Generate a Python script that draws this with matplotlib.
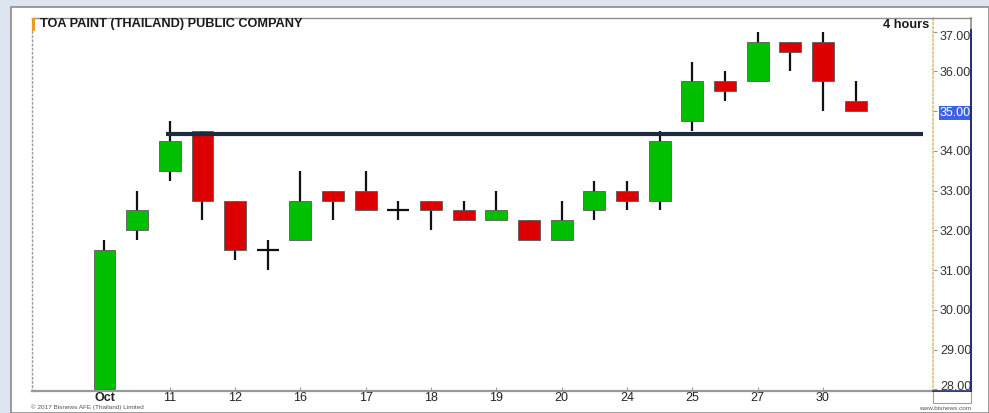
import matplotlib
matplotlib.use("Agg")
import matplotlib.pyplot as plt
import matplotlib.transforms as mtransforms
from matplotlib.lines import Line2D
from matplotlib.patches import Rectangle

# ---------------- data ----------------
opens  = [28.0, 32.0, 33.5, 34.5, 32.75, 31.5, 31.75, 33.0, 33.0, 32.5, 32.75, 32.5,
          32.25, 32.25, 31.75, 32.5, 33.0, 32.75, 34.75, 35.75, 35.75, 36.75, 36.75, 35.25]
highs  = [31.75, 33.0, 34.75, 34.5, 32.75, 31.75, 33.5, 33.0, 33.5, 32.75, 32.75, 32.75,
          33.0, 32.25, 32.75, 33.25, 33.25, 34.5, 36.25, 36.0, 37.0, 36.75, 37.0, 35.75]
lows   = [28.0, 31.75, 33.25, 32.25, 31.25, 31.0, 31.75, 32.25, 32.5, 32.25, 32.0, 32.25,
          32.25, 31.75, 31.75, 32.25, 32.5, 32.5, 34.5, 35.25, 35.75, 36.0, 35.0, 35.0]
closes = [31.5, 32.5, 34.25, 32.75, 31.5, 31.5, 32.75, 32.75, 32.5, 32.5, 32.5, 32.25,
          32.5, 31.75, 32.25, 33.0, 32.75, 34.25, 35.75, 35.5, 36.75, 36.5, 35.75, 35.0]
x_tick_idx = [0, 2, 4, 6, 8, 10, 12, 14, 16, 18, 20, 22]
x_tick_labels = ["Oct", "11", "12", "16", "17", "18", "19", "20", "24", "25", "27", "30"]
y_ticks = [28, 29, 30, 31, 32, 33, 34, 35, 36, 37]
resistance_level = 34.42
resistance_start = 1.88
resistance_end = 25.06
title = "TOA PAINT (THAILAND) PUBLIC COMPANY"
interval = "4 hours"
last_price_label = 35.0

# ---------------- figure ----------------
W, H = 989, 413
fig = plt.figure(figsize=(W / 100, H / 100), dpi=100)
fig.patch.set_facecolor("#dde5ef")

def P(x, y):
    return (x / W, 1 - y / H)

# white panel
fig.add_artist(Rectangle(P(11, H), (W - 11) / W, (H - 7) / H, transform=fig.transFigure,
                         facecolor="white", edgecolor="#8c8c8c", lw=1.2, zorder=0))

L, R, T, B = 32, 933, 18, 391
ax = fig.add_axes([L / W, 1 - B / H, (R - L) / W, (B - T) / H])
ax.set_facecolor("white")

GREEN = "#00bf00"
RED = "#dd0000"
bw = 0.67

idx = list(range(len(opens)))
for i in idx:
    o, h, l, c = opens[i], highs[i], lows[i], closes[i]
    ax.vlines(i, l, h, color="#111111", lw=1.6, zorder=2)
    if o == c:
        ax.hlines(o, i - bw / 2, i + bw / 2, color="#111111", lw=1.6, zorder=3)
    else:
        col = GREEN if c > o else RED
        ax.bar(i, abs(c - o), bottom=min(o, c), width=bw, color=col,
               edgecolor="#5a5a5a", linewidth=0.6, zorder=3)

ax.hlines(resistance_level, resistance_start, resistance_end, color="#1c2b40", lw=3.0, zorder=4)

ax.set_xlim(-2.22, 25.37)
ax.set_ylim(27.957, 37.345)

# y axis on right
ax.yaxis.tick_right()
ax.set_yticks(y_ticks)
ax.set_yticklabels([f"{v:.2f}" for v in y_ticks])
ax.tick_params(axis="y", which="both", right=True, left=False, length=3, width=0.8,
               color="#999999", labelsize=9, labelcolor="#333333", pad=2)
for lab in ax.get_yticklabels():
    lab.set_fontfamily("Liberation Sans")
ytl = ax.get_yticklabels()
off_down = mtransforms.ScaledTranslation(0, -4 / 100, fig.dpi_scale_trans)
off_up = mtransforms.ScaledTranslation(0, 4 / 100, fig.dpi_scale_trans)
for v, lab in zip(y_ticks, ytl):
    if v == y_ticks[-1]:
        lab.set_transform(lab.get_transform() + off_down)
    if v == y_ticks[0]:
        lab.set_transform(lab.get_transform() + off_up)
    if v == last_price_label:
        lab.set_color("white")
        lab.set_bbox(dict(facecolor="#3d62e3", edgecolor="none", pad=0.6))

# x axis
ax.set_xticks(x_tick_idx)
ax.set_xticklabels(x_tick_labels)
ax.tick_params(axis="x", length=3, width=0.8, color="#999999", direction="in",
               labelsize=9, labelcolor="#222222", pad=1)
for lab in ax.get_xticklabels():
    lab.set_fontfamily("Liberation Sans")
ax.get_xticklabels()[0].set_fontweight("bold")

# spines
ax.spines["top"].set_color("#8c8c8c")
ax.spines["top"].set_linewidth(1.0)
ax.spines["left"].set_color("#9a9a9a")
ax.spines["left"].set_linestyle((0, (1, 2)))
ax.spines["left"].set_linewidth(1.0)
ax.spines["right"].set_color("#dcc47a")
ax.spines["right"].set_linestyle((0, (1, 1.5)))
ax.spines["right"].set_linewidth(1.2)
ax.spines["bottom"].set_color("#9a9a9a")
ax.spines["bottom"].set_linewidth(1.6)

# outer frame pieces
fig.add_artist(Line2D([P(R, T)[0], P(971, T)[0]], [P(R, T)[1]] * 2, transform=fig.transFigure,
                      color="#8c8c8c", lw=1.0))
fig.add_artist(Line2D([P(971, T)[0]] * 2, [P(971, T)[1], P(971, 30)[1]], transform=fig.transFigure,
                      color="#8c8c8c", lw=1.2))
fig.add_artist(Line2D([P(971, 30)[0]] * 2, [P(971, 30)[1], P(971, B)[1]], transform=fig.transFigure,
                      color="#1f2d6e", lw=1.4))
fig.add_artist(Line2D([P(R, B)[0], P(971, B)[0]], [P(R, B)[1]] * 2, transform=fig.transFigure,
                      color="#1f2d6e", lw=1.2))
fig.add_artist(Rectangle(P(R, 403), (971 - R) / W, (403 - B) / H, transform=fig.transFigure,
                         facecolor="none", edgecolor="#a0a0a0", lw=0.8))

# orange marker by title
fig.add_artist(Rectangle(P(32, 31), 2.5 / W, 13 / H, transform=fig.transFigure,
                         facecolor="#f29a1f", edgecolor="none"))

fig.text(*P(40, 24.5), title, fontsize=9.2, fontweight="bold", color="#1a1a1a",
         family="Liberation Sans", va="center", ha="left")
fig.text(*P(929, 24.5), interval, fontsize=9.2, fontweight="bold", color="#1a1a1a",
         family="Liberation Sans", va="center", ha="right")

fig.text(*P(31, 407.5), "\u00a9 2017 Bisnews AFE (Thailand) Limited", fontsize=4.6,
         color="#555555", family="Liberation Sans", va="center", ha="left")
fig.text(*P(971, 408.5), "www.bisnews.com", fontsize=4.6, color="#555555",
         family="Liberation Sans", va="center", ha="right")

fig.savefig("out.png", dpi=100, facecolor=fig.get_facecolor())
